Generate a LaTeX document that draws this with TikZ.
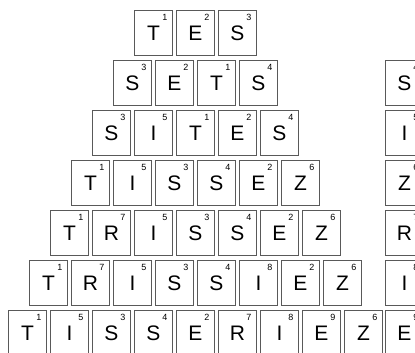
\documentclass[tikz,border=0pt]{standalone}
\usepackage{fontspec}
\setmainfont{Liberation Sans}
\begin{document}
\begin{tikzpicture}[x=1pt,y=-1pt,
  tilebox/.style={draw=black!65, line width=0.9pt, fill=white,
    minimum width=38pt, minimum height=45pt, inner sep=0pt, anchor=north west,
    font=\fontsize{21}{21}\selectfont},
  score/.style={font=\fontsize{9}{9}\selectfont, inner sep=0pt}]
\useasboundingbox (0,0) rectangle (415,353);
\foreach \r/\w in {1/{T/1,E/2,S/3},
                   2/{S/3,E/2,T/1,S/4},
                   3/{S/3,I/5,T/1,E/2,S/4},
                   4/{T/1,I/5,S/3,S/4,E/2,Z/6},
                   5/{T/1,R/7,I/5,S/3,S/4,E/2,Z/6},
                   6/{T/1,R/7,I/5,S/3,S/4,I/8,E/2,Z/6},
                   7/{T/1,I/5,S/3,S/4,E/2,R/7,I/8,E/9,Z/6}}{
  \foreach \L/\N [count=\c] in \w {
    \pgfmathsetmacro\xx{195-((\r+2)*42-4)/2+(\c-1)*42}
    \pgfmathsetmacro\yy{10+(\r-1)*50}
    \node[tilebox] (t\r-\c) at (\xx,\yy) {\L};
    \node[score] (n\r-\c) at ([xshift=-8pt,yshift=-7pt]t\r-\c.north east) {\N};
  }
}
\foreach \r/\L/\N in {2/S/4,3/I/5,4/Z/6,5/R/7,6/I/8,7/E/9}{
  \pgfmathsetmacro\yy{10+(\r-1)*50}
  \node[tilebox] (c\r) at (385,\yy) {\L};
  \node[score] (cn\r) at ([xshift=-8pt,yshift=-7pt]c\r.north east) {\N};
}
\end{tikzpicture}
\end{document}
